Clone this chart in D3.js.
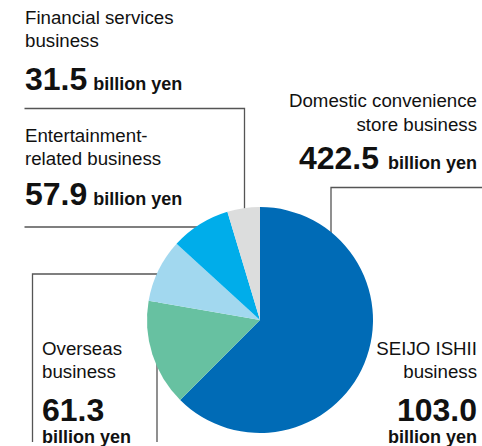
<!DOCTYPE html>
<html>
<head>
<meta charset="utf-8">
<script src="https://cdn.jsdelivr.net/npm/d3@7"></script>
<style>
  html, body { margin: 0; padding: 0; background: #fff; }
  svg { display: block; font-family: "Liberation Sans", Arial, Helvetica, sans-serif; }
</style>
</head>
<body>
<svg id="chart" width="482" height="446"></svg>
<script>
// Segment names (clockwise from 12 o'clock) and their values in billion yen
const segments = [
  "Domestic convenience store business",
  "SEIJO ISHII business",
  "Overseas business",
  "Entertainment-related business",
  "Financial services business"
];
const values = [422.5, 103.0, 61.3, 57.9, 31.5];
const colors = ["#006bb6", "#67c1a1", "#a2d8ef", "#00adea", "#dcdddd"];

// Label text lines for each segment
const labelLines = [
  ["Domestic convenience", "store business"],
  ["SEIJO ISHII", "business"],
  ["Overseas", "business"],
  ["Entertainment-", "related business"],
  ["Financial services", "business"]
];
const unit = "billion yen";

const svg = d3.select("#chart");
const cx = 260, cy = 320, r = 113;
const fmt = d3.format(".1f");
const lineColor = "#555";

// Leader lines / frames, drawn beneath the pie
const leaders = svg.append("g")
  .attr("fill", "none")
  .attr("stroke", lineColor)
  .attr("stroke-width", 1.3);
leaders.append("path").attr("d", "M24.5,108.5 H244.5 V230");          // financial
leaders.append("path").attr("d", "M24.5,227 H215");                   // entertainment
leaders.append("path").attr("d", "M32.5,442 V274 H157 V442");         // overseas
leaders.append("path").attr("d", "M331,240 V187.5 H482");             // domestic

// Pie
const pie = d3.pie().sort(null).value(d => d)(values);
const arc = d3.arc().innerRadius(0).outerRadius(r);
svg.append("g")
  .attr("transform", `translate(${cx},${cy})`)
  .selectAll("path")
  .data(pie)
  .join("path")
  .attr("d", arc)
  .attr("fill", (d, i) => colors[i]);

// Label placement: anchor, x, baselines of the two text lines, value line, unit line
const layout = [
  { anchor: "end",   x: 477, lines: [107, 131], value: 169, unitSame: true, gap: 9 },
  { anchor: "end",   x: 477, lines: [355, 378], value: 421, unitY: 443 },
  { anchor: "start", x: 42,  lines: [355, 378], value: 421, unitY: 443 },
  { anchor: "start", x: 25,  lines: [142, 165], value: 205, unitSame: true, gap: 6 },
  { anchor: "start", x: 25,  lines: [24, 47],   value: 90,  unitSame: true, gap: 6 }
];

const labels = svg.append("g").attr("fill", "#111");
layout.forEach((L, i) => {
  labelLines[i].forEach((t, k) => {
    labels.append("text")
      .attr("x", L.x).attr("y", L.lines[k])
      .attr("text-anchor", L.anchor)
      .attr("font-size", 18.7)
      .text(t);
  });
  const vt = labels.append("text")
    .attr("x", L.x).attr("y", L.value)
    .attr("text-anchor", L.anchor)
    .attr("font-weight", "bold");
  vt.append("tspan").attr("font-size", 32).text(fmt(values[i]));
  if (L.unitSame) {
    vt.append("tspan").attr("font-size", 18).attr("dx", L.gap).text(unit);
  } else {
    labels.append("text")
      .attr("x", L.x).attr("y", L.unitY)
      .attr("text-anchor", L.anchor)
      .attr("font-weight", "bold")
      .attr("font-size", 18)
      .text(unit);
  }
});
</script>
</body>
</html>
